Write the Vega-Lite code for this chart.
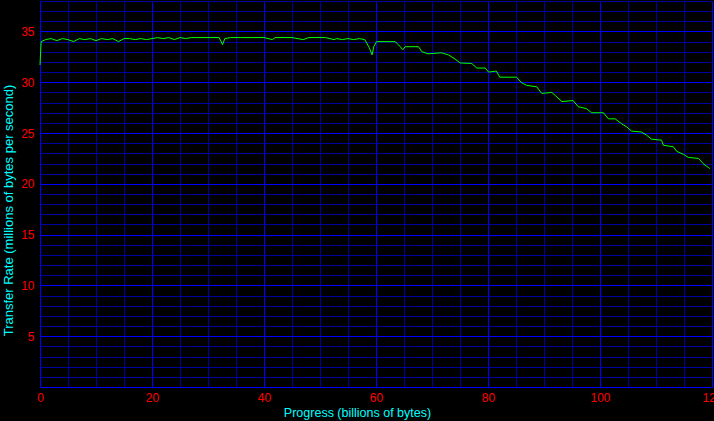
{
  "$schema": "https://vega.github.io/schema/vega-lite/v6.json",
  "width": 672,
  "height": 386,
  "autosize": {"type": "none"},
  "padding": {"left": 40, "top": 1, "right": 2, "bottom": 34},
  "background": "#000000",
  "config": {"view": {"stroke": null, "fill": "#000000"}},
  "data": {"values": [
    {"x":0,"y":31.7},{"x":0.2,"y":34.0},{"x":1,"y":34.2},{"x":2,"y":34.3},{"x":3,"y":34.1},{"x":4,"y":34.3},{"x":5,"y":34.2},{"x":6,"y":34.0},{"x":7,"y":34.3},{"x":8,"y":34.2},{"x":9,"y":34.3},{"x":10,"y":34.1},{"x":11,"y":34.3},{"x":12,"y":34.2},{"x":13,"y":34.3},{"x":14,"y":34.0},{"x":15,"y":34.3},{"x":16,"y":34.3},{"x":17,"y":34.2},{"x":18,"y":34.3},{"x":19,"y":34.2},{"x":20,"y":34.3},{"x":21,"y":34.4},{"x":22,"y":34.3},{"x":23,"y":34.4},{"x":24,"y":34.2},{"x":25,"y":34.4},{"x":26,"y":34.3},{"x":27,"y":34.4},{"x":28,"y":34.4},{"x":30,"y":34.4},{"x":32,"y":34.4},{"x":32.6,"y":33.7},{"x":33,"y":34.3},{"x":34,"y":34.4},{"x":36,"y":34.4},{"x":38,"y":34.4},{"x":40,"y":34.4},{"x":41.5,"y":34.2},{"x":42,"y":34.4},{"x":45,"y":34.4},{"x":47,"y":34.2},{"x":48,"y":34.4},{"x":51,"y":34.4},{"x":52.5,"y":34.2},{"x":53,"y":34.3},{"x":54,"y":34.2},{"x":55,"y":34.3},{"x":56,"y":34.2},{"x":57,"y":34.3},{"x":58,"y":34.2},{"x":58.8,"y":33.4},{"x":59.3,"y":32.7},{"x":59.6,"y":33.5},{"x":60.1,"y":34.0},{"x":63.4,"y":34.0},{"x":64,"y":33.7},{"x":64.8,"y":33.2},{"x":65.2,"y":33.5},{"x":67.6,"y":33.5},{"x":68.2,"y":33.0},{"x":69.3,"y":32.8},{"x":71.7,"y":32.9},{"x":72.9,"y":32.7},{"x":74.1,"y":32.3},{"x":75,"y":31.9},{"x":77.1,"y":31.85},{"x":78,"y":31.4},{"x":79.5,"y":31.4},{"x":80.1,"y":31.0},{"x":81.5,"y":31.1},{"x":82.1,"y":30.5},{"x":85.1,"y":30.5},{"x":86,"y":29.95},{"x":86.9,"y":29.7},{"x":88.7,"y":29.55},{"x":89.6,"y":28.9},{"x":91.4,"y":29.0},{"x":92,"y":28.7},{"x":93.2,"y":28.1},{"x":95.2,"y":28.2},{"x":96.1,"y":27.6},{"x":97.6,"y":27.4},{"x":98.5,"y":27.0},{"x":100.6,"y":27.0},{"x":101.5,"y":26.4},{"x":102.7,"y":26.4},{"x":103.9,"y":25.9},{"x":104.8,"y":25.6},{"x":105.6,"y":25.2},{"x":107.4,"y":25.1},{"x":108.3,"y":24.8},{"x":109.2,"y":24.4},{"x":111,"y":24.3},{"x":111.3,"y":23.8},{"x":113.1,"y":23.65},{"x":113.7,"y":23.2},{"x":114.9,"y":22.9},{"x":115.8,"y":22.6},{"x":117.6,"y":22.5},{"x":118.4,"y":22.0},{"x":119.6,"y":21.5}
  ]},
  "layer": [
    {
      "mark": {"type": "line", "strokeOpacity": 0},
      "encoding": {
        "x": {"field": "x", "type": "quantitative", "scale": {"domain": [0, 120], "nice": false, "zero": false},
          "axis": {"orient": "bottom", "values": [0,5,10,15,20,25,30,35,40,45,50,55,60,65,70,75,80,85,90,95,100,105,110,115,120], "grid": true, "gridColor": "#00009C", "gridOpacity": 1, "gridWidth": 1, "labels": false, "ticks": false, "domain": false, "title": null}},
        "y": {"field": "y", "type": "quantitative", "scale": {"domain": [0, 38], "nice": false},
          "axis": {"orient": "left", "values": [0,1,2,3,4,5,6,7,8,9,10,11,12,13,14,15,16,17,18,19,20,21,22,23,24,25,26,27,28,29,30,31,32,33,34,35,36,37,38], "grid": true, "gridColor": "#00009C", "gridOpacity": 1, "gridWidth": 1, "labels": false, "ticks": false, "domain": false, "title": null}}
      }
    },
    {
      "mark": {"type": "line", "color": "#00FF00", "strokeWidth": 1},
      "encoding": {
        "x": {"field": "x", "type": "quantitative",
          "axis": {"orient": "bottom", "values": [0,20,40,60,80,100,120], "grid": true, "gridColor": "#0000FF", "gridOpacity": 1, "gridWidth": 1, "ticks": false, "domain": false,
            "labelColor": "#FF0000", "labelFont": "Liberation Sans", "labelFontSize": 12, "labelPadding": 5, "labelFlush": false,
            "title": "Progress (billions of bytes)", "titleColor": "#00FFFF", "titleFont": "Liberation Sans", "titleFontSize": 12.5, "titleFontWeight": "normal",
            "titleAnchor": "start", "titleAlign": "center", "titleX": 317, "titleY": 29, "titleBaseline": "alphabetic"}},
        "y": {"field": "y", "type": "quantitative",
          "axis": {"orient": "left", "values": [0,5,10,15,20,25,30,35], "grid": true, "gridColor": "#0000FF", "gridOpacity": 1, "gridWidth": 1, "ticks": false, "domain": false,
            "labelColor": "#FF0000", "labelFont": "Liberation Sans", "labelFontSize": 12, "labelPadding": 6, "labelFlush": false,
            "labelExpr": "datum.value == 0 ? '' : datum.label",
            "title": "Transfer Rate (millions of bytes per second)", "titleColor": "#00FFFF", "titleFont": "Liberation Sans", "titleFontSize": 13, "titleFontWeight": "normal",
            "titleAngle": -90, "titleAlign": "center", "titleX": -25, "titleY": 209, "titleBaseline": "bottom"}}
      }
    }
  ],
  "resolve": {"axis": {"x": "independent", "y": "independent"}}
}
